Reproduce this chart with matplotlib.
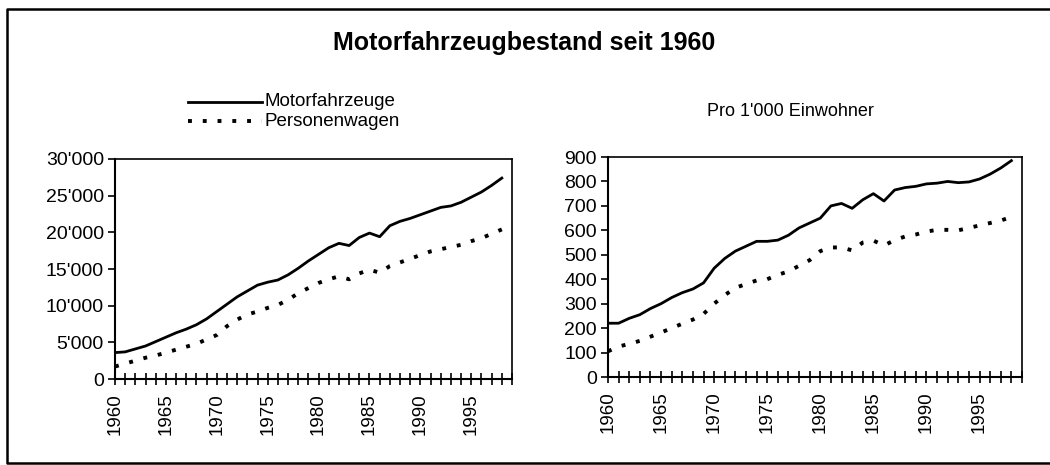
import matplotlib.pyplot as plt
from matplotlib.lines import Line2D
from matplotlib.ticker import FuncFormatter

plt.rcParams['font.family'] = ['Liberation Sans', 'DejaVu Sans']

years = list(range(1960, 1999))

# Motorfahrzeugbestand in 1000
mfz_total = [3600, 3700, 4100, 4500, 5100, 5700, 6300, 6800, 7400, 8200,
             9200, 10200, 11200, 12000, 12800, 13200, 13500, 14200, 15100, 16100,
             17000, 17900, 18500, 18200, 19300, 19900, 19400, 20900, 21500, 21900,
             22400, 22900, 23400, 23600, 24100, 24800, 25500, 26400, 27400]
pw_total = [1700, 2100, 2500, 2900, 3200, 3600, 4000, 4400, 4800, 5400,
            6000, 7200, 8100, 8800, 9200, 9700, 10100, 10800, 11700, 12400,
            13100, 13600, 14000, 13600, 14400, 14900, 14500, 15400, 15900, 16400,
            16900, 17400, 17700, 18000, 18300, 18800, 19200, 19800, 20400]

# pro 1'000 Einwohner
mfz_per1000 = [220, 220, 240, 255, 280, 300, 325, 345, 360, 385,
               445, 485, 515, 535, 555, 555, 560, 580, 610, 630,
               650, 700, 710, 690, 725, 750, 720, 765, 775, 780,
               790, 793, 800, 795, 798, 810, 830, 855, 885]
pw_per1000 = [105, 125, 135, 148, 165, 182, 200, 218, 235, 258,
              300, 335, 365, 380, 395, 400, 418, 432, 455, 478,
              515, 530, 530, 518, 550, 558, 538, 560, 575, 583,
              595, 602, 602, 600, 610, 620, 630, 640, 655]

W, H = 1050, 465
fig = plt.figure(figsize=(W / 100, H / 100), dpi=100)

dotted = (0, (1.0, 2.8))


def px_axes(x0, x1, y_top, y_bot):
    return fig.add_axes([x0 / W, (H - y_bot) / H, (x1 - x0) / W, (y_bot - y_top) / H])


def style(ax, ymax, ystep, fmt):
    ax.set_xlim(1960, 1999)
    ax.set_ylim(0, ymax)
    ax.set_yticks(range(0, ymax + 1, ystep))
    ax.yaxis.set_major_formatter(FuncFormatter(fmt))
    ax.set_xticks(range(1960, 2000))
    ax.set_xticklabels([str(y) if y % 5 == 0 and y < 1999 else '' for y in range(1960, 2000)],
                       rotation=90)
    ax.tick_params(axis='x', direction='inout', length=9, width=1.2, labelsize=13.5, pad=6)
    ax.tick_params(axis='y', direction='out', length=5, width=1.2, labelsize=14, pad=3)
    for s in ax.spines.values():
        s.set_linewidth(1.2)
    ax.spines['bottom'].set_linewidth(1.5)
    ax.spines['left'].set_linewidth(1.5)


ax1 = px_axes(115, 512, 159, 379)
ax1.plot(years, mfz_total, color='black', lw=2)
ax1.plot(years, pw_total, color='black', lw=2.8, linestyle=dotted)
style(ax1, 30000, 5000, lambda v, p: '0' if v == 0 else f"{int(v) // 1000}'000")

ax2 = px_axes(608, 1022, 157, 377)
ax2.plot(years, mfz_per1000, color='black', lw=2)
ax2.plot(years, pw_per1000, color='black', lw=2.8, linestyle=dotted)
style(ax2, 900, 100, lambda v, p: f"{int(v)}")

# title and captions
fig.text(524 / W, 1 - 43 / H, 'Motorfahrzeugbestand seit 1960', ha='center', va='center',
         fontsize=18, fontweight='bold')
fig.text(790 / W, 1 - 111 / H, "Pro 1'000 Einwohner", ha='center', va='center', fontsize=13)

# hand-made legend
fig.add_artist(Line2D([188 / W, 262 / W], [1 - 102 / H, 1 - 102 / H], color='black', lw=2))
fig.add_artist(Line2D([188 / W, 262 / W], [1 - 121 / H, 1 - 121 / H], color='black', lw=2.8,
                      linestyle=dotted))
fig.text(265 / W, 1 - 102 / H, 'Motorfahrzeuge', ha='left', va='center', fontsize=13.5)
fig.text(265 / W, 1 - 121 / H, 'Personenwagen', ha='left', va='center', fontsize=13.5)

# frame around the whole chart (open on the right)
fig.add_artist(Line2D([1.0, 7 / W, 7 / W, 1.0], [1 - 9 / H, 1 - 9 / H, 1 - 463 / H, 1 - 463 / H],
                      color='black', lw=1.8))

fig.savefig('out.png', dpi=100)
